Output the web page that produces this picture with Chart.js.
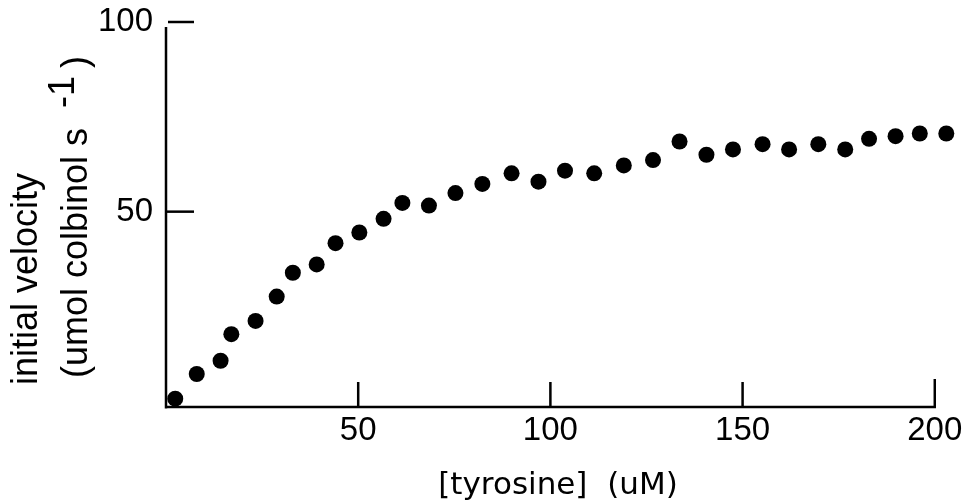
<!DOCTYPE html>
<html>
<head>
<meta charset="utf-8">
<script src="https://cdn.jsdelivr.net/npm/chart.js@4"></script>
<style>
  html, body { margin: 0; padding: 0; background: #fff; }
  canvas { display: block; }
</style>
</head>
<body>
<canvas id="velocityChart" width="974" height="501"></canvas>
<script>
// Data
const tyrosine = [2.4, 8.0, 14.2, 17.0, 23.3, 28.8, 33.0, 39.2, 44.1, 50.3, 56.6, 61.5,
    68.4, 75.3, 82.3, 89.9, 96.9, 103.8, 111.4, 119.1, 126.7, 133.6, 140.6, 147.5,
    155.2, 162.1, 169.7, 176.7, 182.9, 189.8, 196.1, 203.0];
const velocity = [0.7, 7.2, 10.7, 17.7, 21.2, 27.6, 33.9, 36.1, 41.7, 44.5, 48.1, 52.3,
    51.6, 54.9, 57.3, 60.1, 57.9, 60.8, 60.1, 62.2, 63.6, 68.5, 65.0, 66.4,
    67.8, 66.4, 67.8, 66.4, 69.2, 69.9, 70.6, 70.6];
const xTickValues = [50, 100, 150, 200];
const yTickValues = [50, 100];
const xTitle = '[tyrosine]  (uM)';
const yTitleTop = 'initial velocity';
const yTitleBottom = '(umol colbinol s';
const yTitleSup = '-1';
const yTitleClose = ')';

// Axis lines, tick marks pointing into the plot, and the axis titles
const axisExtras = {
    id: 'axisExtras',
    afterDraw(chart) {
        const ctx = chart.ctx;
        const area = chart.chartArea;
        const xs = chart.scales.x;
        const ys = chart.scales.y;
        const xEnd = xs.getPixelForValue(200);
        const yTop = ys.getPixelForValue(100);
        ctx.save();
        ctx.strokeStyle = '#000';
        ctx.lineWidth = 2.5;
        ctx.lineCap = 'butt';

        // axis lines
        ctx.beginPath();
        ctx.moveTo(area.left, area.bottom + 1.5);
        ctx.lineTo(area.left, yTop + 5);
        ctx.moveTo(area.left - 1.2, area.bottom);
        ctx.lineTo(xEnd + 1.2, area.bottom);
        ctx.stroke();

        xTickValues.forEach(v => {
            const px = xs.getPixelForValue(v);
            ctx.beginPath();
            ctx.moveTo(px, area.bottom);
            ctx.lineTo(px, area.bottom - (v === 200 ? 28 : 25));
            ctx.stroke();
        });
        yTickValues.forEach(v => {
            const py = ys.getPixelForValue(v);
            ctx.beginPath();
            ctx.moveTo(area.left + (v === 100 ? 2 : 0), py);
            ctx.lineTo(area.left + 28, py);
            ctx.stroke();
        });

        ctx.fillStyle = '#000';
        // x title
        ctx.font = '31px "DejaVu Sans"';
        ctx.textAlign = 'center';
        ctx.textBaseline = 'alphabetic';
        ctx.fillText(xTitle, 558, 494);

        // y title, two rotated lines
        ctx.font = '36px "Liberation Sans"';
        ctx.textAlign = 'center';
        ctx.save();
        ctx.translate(37, 279);
        ctx.rotate(-Math.PI / 2);
        ctx.fillText(yTitleTop, 0, 0);
        ctx.restore();

        ctx.save();
        ctx.translate(87, 378);
        ctx.rotate(-Math.PI / 2);
        ctx.textAlign = 'left';
        ctx.fillText(yTitleBottom, 0, 0);
        const w = ctx.measureText(yTitleBottom).width;
        ctx.fillText(yTitleSup, w + 20, -13);
        const w2 = ctx.measureText(yTitleSup).width;
        ctx.fillText(yTitleClose, w + 20 + w2 + 8, 0);
        ctx.restore();

        ctx.restore();
    }
};

document.addEventListener('DOMContentLoaded', function() {
    const ctx = document.getElementById('velocityChart').getContext('2d');
    new Chart(ctx, {
        type: 'scatter',
        data: {
            datasets: [{
                data: tyrosine.map((x, i) => ({ x: x, y: velocity[i] })),
                pointRadius: 8,
                pointHoverRadius: 8,
                pointBackgroundColor: '#000',
                pointBorderWidth: 0,
                showLine: false,
                clip: false
            }]
        },
        options: {
            responsive: false,
            animation: false,
            layout: {
                padding: { top: 22, right: 20, left: 0, bottom: 0 }
            },
            scales: {
                x: {
                    type: 'linear',
                    min: 0,
                    max: 205,
                    afterBuildTicks: scale => {
                        scale.ticks = xTickValues.map(v => ({ value: v }));
                    },
                    afterFit: scale => {
                        scale.height = 94;
                        scale.paddingLeft = 0;
                        scale.paddingRight = 0;
                    },
                    grid: {
                        display: false,
                        drawTicks: false
                    },
                    border: { display: false },
                    ticks: {
                        color: '#000',
                        font: { family: 'Liberation Sans', size: 33 },
                        padding: 4,
                        maxRotation: 0,
                        autoSkip: false
                    }
                },
                y: {
                    type: 'linear',
                    min: -1.5,
                    max: 100,
                    afterBuildTicks: scale => {
                        scale.ticks = yTickValues.map(v => ({ value: v }));
                    },
                    afterFit: scale => {
                        scale.width = 166;
                        scale.paddingTop = 0;
                        scale.paddingBottom = 0;
                    },
                    grid: {
                        display: false,
                        drawTicks: false
                    },
                    border: { display: false },
                    ticks: {
                        color: '#000',
                        font: { family: 'Liberation Sans', size: 33 },
                        padding: 13
                    }
                }
            },
            plugins: {
                legend: { display: false },
                tooltip: { enabled: false }
            }
        },
        plugins: [axisExtras]
    });
});
</script>
</body>
</html>
